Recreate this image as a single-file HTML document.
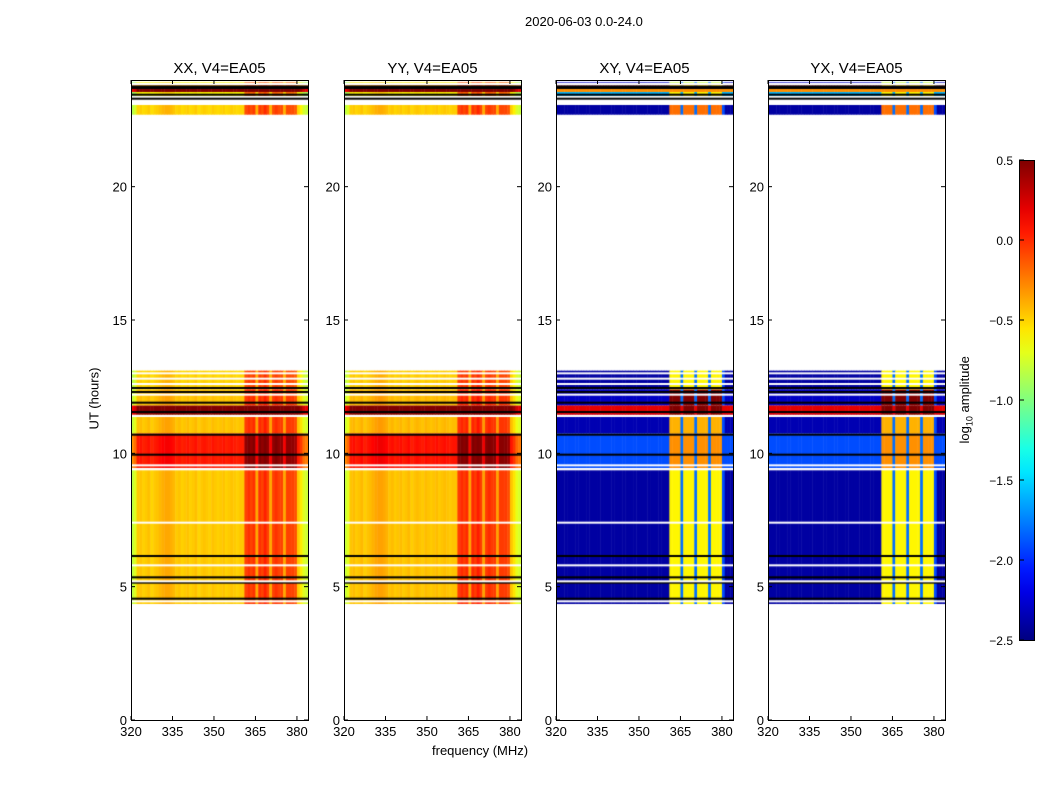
<!DOCTYPE html>
<html><head><meta charset="utf-8">
<style>
body{margin:0;background:#fff;width:1050px;height:800px;overflow:hidden;font-family:"Liberation Sans",sans-serif;}
#wrap{position:relative;width:1050px;height:800px;}
canvas{position:absolute;}
.t{position:absolute;font-size:13px;color:#000;white-space:nowrap;}
</style></head>
<body>
<div id="wrap">
<div class="t" style="left:525px;top:14px;font-size:13px">2020-06-03 0.0-24.0</div>
<div class="t" style="left:432px;top:743px">frequency (MHz)</div>
<div class="t" style="left:63px;top:391px;transform:rotate(-90deg);transform-origin:center">UT (hours)</div>
<div class="t" style="left:922px;top:391px;transform:rotate(-90deg);transform-origin:center">log<sub style="font-size:9px">10</sub> amplitude</div>
<svg id="svg" width="1050" height="800" style="position:absolute;left:0;top:0"></svg>
</div>
<script>
// ---- data ----
const panelTitles=["XX, V4=EA05","YY, V4=EA05","XY, V4=EA05","YX, V4=EA05"];
const xTicks=[320,335,350,365,380];
const yTicks=[0,5,10,15,20];
const cbTicks=[-2.5,-2.0,-1.5,-1.0,-0.5,0.0,0.5];
// time segments (hours) with levels (log10 amplitude)
const segStart=[4.35,9.45,10.75,11.45,11.8,12.4,22.7,23.4,23.55,23.8];
const segEnd  =[9.4,10.75,11.45,11.8,12.4,13.1,23.1,23.55,23.8,24.0];
const segPar  =[-0.47,0.05,-0.45,0.5,-0.45,-0.5,-0.5,-0.6,0.5,-0.6];
const segCrossOff=[-2.4,-1.9,-2.35,0.2,-2.3,-2.4,-2.4,-1.6,-0.3,-2.3];
const segCrossBand=[-0.6,-0.3,-0.4,0.5,0.5,-0.6,-0.2,-0.6,-0.3,-0.8];
// per-channel offsets, channels 320..383 (1 MHz)
const parProfile=[-0.35,-0.25,0,0.02,-0.02,0,0.03,-0.03,0,0.02,0.05,0.08,0.1,0.1,0.08,0.05,0,0.02,-0.02,0,0.02,-0.02,0,0.03,-0.03,0,0.02,0,-0.02,0.02,0,-0.02,0,0.02,-0.02,0,0.02,0,-0.02,0,0,0.4,0.45,0.4,0.45,0.1,0.45,0.4,0.5,0.4,0.1,0.4,0.45,0.4,0.4,0.1,0.4,0.4,0.4,0.35,0.0,-0.1,-0.25,-0.3];
const crossBandMask=[0,0,0,0,0,0,0,0,0,0,0,0,0,0,0,0,0,0,0,0,0,0,0,0,0,0,0,0,0,0,0,0,0,0,0,0,0,0,0,0,0,1,1,1,1,0,1,1,1,1,0,1,1,1,1,0,1,1,1,1,0,0,0,0];
const crossGapLevel=-1.8;
const blackLines=[4.55,5.15,5.35,6.15,9.95,10.7,11.55,11.9,12.3,12.45,23.3,23.45,23.7,23.75];
const whiteLines=[4.45,5.2,5.8,7.4,9.4,9.55,11.4,12.2,12.6,12.8,13.0,23.1,23.85,23.95];

// ---- layout ----
const panelX=[131,344,556,768], PW=177, PT=80, PB=720;
const fx=(f,p)=>panelX[p]+(f-320)*PW/64;
const ty=h=>PB-h*(PB-PT)/24;
const cbY=v=>640-(v+2.5)*480/3;
function jet(v){let t=Math.max(0,Math.min(1,(v+2.5)/3));const c=x=>Math.round(255*Math.max(0,Math.min(1,x)));
return [c(1.5-Math.abs(4*t-3)),c(1.5-Math.abs(4*t-2)),c(1.5-Math.abs(4*t-1))];}
const wrap=document.getElementById('wrap'),svg=document.getElementById('svg');
const NS="http://www.w3.org/2000/svg";
function el(tag,attrs){const e=document.createElementNS(NS,tag);for(const k in attrs)e.setAttribute(k,attrs[k]);svg.appendChild(e);return e;}

for(let p=0;p<4;p++){
  const cv=document.createElement('canvas');
  cv.width=PW;cv.height=PB-PT;cv.style.left=panelX[p]+'px';cv.style.top=PT+'px';
  
  
  wrap.insertBefore(cv,svg);
  const ctx=cv.getContext('2d');
  for(let s=0;s<segStart.length;s++){
    for(let ch=0;ch<64;ch++){
      let v;
      if(p<2){v=segPar[s]+parProfile[ch]+(p==1?0.02:0);}
      else{
        if(crossBandMask[ch]) v=segCrossBand[s];
        else if(ch==45||ch==50||ch==55) v=Math.max(segCrossOff[s],crossGapLevel);
        else if(ch==60) v=Math.max(segCrossOff[s],-1.9);
        else v=segCrossOff[s];
      }
      const [r,g,b]=jet(v);ctx.fillStyle=`rgb(${r},${g},${b})`;
      const x0=fx(320+ch,p)-panelX[p],x1=fx(321+ch,p)-panelX[p];
      const y0=ty(segEnd[s])-PT,y1=ty(segStart[s])-PT;
      ctx.fillRect(x0,y0,x1-x0+0.5,y1-y0);
    }
  }
  ctx.fillStyle='#000';
  blackLines.forEach(h=>ctx.fillRect(0,ty(h)-PT-1,PW,2));
  ctx.fillStyle='#fff';
  whiteLines.forEach(h=>ctx.fillRect(0,ty(h)-PT-1,PW,2));
  el('rect',{x:panelX[p]+0.5,y:PT+0.5,width:PW,height:PB-PT,fill:'none',stroke:'#000','stroke-width':1,});
  const tt=el('text',{x:panelX[p]+PW/2,y:73,'text-anchor':'middle','font-size':15,'font-family':'Liberation Sans'});tt.textContent=panelTitles[p];
  
  
  xTicks.forEach(f=>{const x=fx(f,p);
    el('line',{x1:x,x2:x,y1:PB,y2:PB-4,stroke:'#000'});el('line',{x1:x,x2:x,y1:PT,y2:PT+4,stroke:'#000'});
    const t=el('text',{x:x,y:PB+16,'text-anchor':'middle','font-size':13,'font-family':'Liberation Sans'});t.textContent=f;
    
    });
  yTicks.forEach(h=>{const y=ty(h);
    el('line',{x1:panelX[p],x2:panelX[p]+4,y1:y,y2:y,stroke:'#000'});el('line',{x1:panelX[p]+PW,x2:panelX[p]+PW-4,y1:y,y2:y,stroke:'#000'});
    const t=el('text',{x:panelX[p]-4,y:y+5,'text-anchor':'end','font-size':13,'font-family':'Liberation Sans'});t.textContent=h;
    
    });
}
// colorbar
const defs=el('defs',{});const lg=document.createElementNS(NS,'linearGradient');
lg.setAttribute('id','jet');lg.setAttribute('x1','0');lg.setAttribute('y1','1');lg.setAttribute('x2','0');lg.setAttribute('y2','0');
for(let i=0;i<=20;i++){const v=-2.5+3*i/20;const [r,g,b]=jet(v);const s=document.createElementNS(NS,'stop');s.setAttribute('offset',i/20);s.setAttribute('stop-color',`rgb(${r},${g},${b})`);lg.appendChild(s);}
defs.appendChild(lg);
el('rect',{x:1019.5,y:160.5,width:15,height:480,fill:'url(#jet)',stroke:'#000',});
cbTicks.forEach(v=>{const y=cbY(v);
  el('line',{x1:1019,x2:1024,y1:y,y2:y,stroke:'#000'});
  const t=el('text',{x:1013,y:y+5,'text-anchor':'end','font-size':12,'font-family':'Liberation Sans'});t.textContent=v.toFixed(1).replace('-','\u2212');
  
  });
</script>
</body></html>
